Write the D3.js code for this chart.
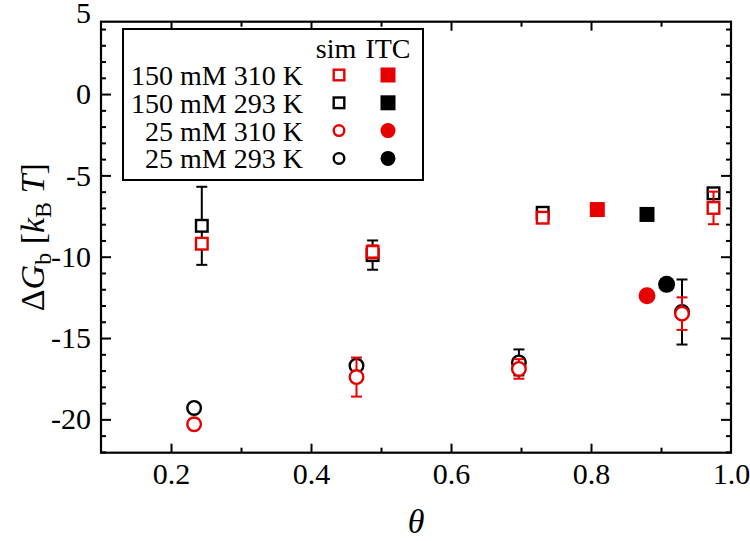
<!DOCTYPE html>
<html><head><meta charset="utf-8">
<script src="https://cdn.jsdelivr.net/npm/d3@7"></script>
<style>body{margin:0;background:#fff}svg{display:block}text{font-family:"Liberation Serif","Times New Roman",serif}</style>
</head><body><svg id="c" width="750" height="541"></svg>
<script>
// ---- data ----
const seriesNames = ["150 mM 310 K", "150 mM 293 K", "25 mM 310 K", "25 mM 293 K"];
const seriesColors = ["#e60000", "#000000", "#e60000", "#000000"];
const seriesShapes = ["square", "square", "circle", "circle"];
// simulation
const simTheta150 = [0.244, 0.488, 0.731, 0.975];
const simTheta25 = [0.233, 0.465, 0.697, 0.930];
const sim150_310 = [-9.2, -9.7, -7.6, -7.0];
const sim150_310err = [0.3, 0.4, 0.2, 1.0];
const sim150_293 = [-8.1, -9.9, -7.3, -6.1];
const sim150_293err = [2.4, 0.9, 0.2, 0.3];
const sim25_310 = [-20.3, -17.4, -16.9, -13.5];
const sim25_310err = [0.2, 1.2, 0.6, 1.0];
const sim25_293 = [-19.3, -16.7, -16.5, -13.4];
const sim25_293err = [0.2, 0.3, 0.8, 2.0];
// ITC
const itcTheta = [0.809, 0.880, 0.880, 0.908];
const itcValues = [-7.1, -7.4, -12.4, -11.7];
// ticks
const xTickLabels = [0.2, 0.4, 0.6, 0.8, 1.0];
const yTickLabels = [-20, -15, -10, -5, 0, 5];

// ---- layout ----
const L = 101, R = 731, T = 21.7, B = 452.7;
const svg = d3.select("#c");
const x = d3.scaleLinear().domain([0.1, 1.0]).range([L, R]);
const y = d3.scaleLinear().domain([-22.05, 4.45]).range([B, T]);

const sim = [
  {xs: simTheta150, ys: sim150_293, es: sim150_293err, s: 1},
  {xs: simTheta25, ys: sim25_293, es: sim25_293err, s: 3},
  {xs: simTheta150, ys: sim150_310, es: sim150_310err, s: 0},
  {xs: simTheta25, ys: sim25_310, es: sim25_310err, s: 2}
];

// frame
svg.append("rect").attr("x", L).attr("y", T).attr("width", R - L).attr("height", B - T)
  .attr("fill", "none").attr("stroke", "#000").attr("stroke-width", 2.2);

// axes
function styleAxis(g) {
  g.select(".domain").remove();
  g.selectAll("line").attr("stroke", "#000").attr("stroke-width", 2);
  g.selectAll("text").attr("font-size", 30).attr("fill", "#000")
    .attr("font-family", "'Liberation Serif','Times New Roman',serif");
}
const yMinor = d3.range(-22, 5, 1).filter(v => v >= -22.05 && v <= 4.45 && v % 5 !== 0);
const yMajorIn = yTickLabels.filter(v => v <= 4.45);
const xMinor = [0.1, 0.3, 0.5, 0.7, 0.9];
const hyph = v => String(v).replace("\u2212", "-");

// left labels (no tick lines)
svg.append("g").attr("transform", `translate(${L},0)`)
  .call(d3.axisLeft(y).tickValues(yTickLabels).tickSize(0).tickPadding(10).tickFormat(v => hyph(d3.format("d")(v))))
  .call(styleAxis);
// left / right major + minor ticks (inward)
[[L, 1], [R, -1]].forEach(([px, dir]) => {
  svg.append("g").attr("transform", `translate(${px},0)`)
    .call((dir > 0 ? d3.axisRight(y) : d3.axisLeft(y)).tickValues(yMajorIn).tickSize(10).tickFormat(""))
    .call(styleAxis);
  svg.append("g").attr("transform", `translate(${px},0)`)
    .call((dir > 0 ? d3.axisRight(y) : d3.axisLeft(y)).tickValues(yMinor).tickSize(5).tickFormat(""))
    .call(styleAxis);
});
// bottom labels
svg.append("g").attr("transform", `translate(0,${B})`)
  .call(d3.axisBottom(x).tickValues(xTickLabels).tickSize(0).tickPadding(10).tickFormat(d3.format(".1f")))
  .call(styleAxis);
[[B, 1], [T, -1]].forEach(([py, dir]) => {
  svg.append("g").attr("transform", `translate(0,${py})`)
    .call((dir > 0 ? d3.axisTop(x) : d3.axisBottom(x)).tickValues(xTickLabels.filter(v => v < 1)).tickSize(9).tickFormat(""))
    .call(styleAxis);
  svg.append("g").attr("transform", `translate(0,${py})`)
    .call((dir > 0 ? d3.axisTop(x) : d3.axisBottom(x)).tickValues(xMinor.filter(v => v > 0.1)).tickSize(5).tickFormat(""))
    .call(styleAxis);
});

// axis titles
const yt = svg.append("text").attr("transform", `translate(44,${(T + B) / 2}) rotate(-90)`)
  .attr("text-anchor", "middle").attr("font-size", 34);
yt.append("tspan").text("Δ");
yt.append("tspan").attr("font-style", "italic").text("G");
yt.append("tspan").attr("font-size", 24).attr("dy", 7).text("b");
yt.append("tspan").attr("dy", -7).text(" [");
yt.append("tspan").attr("font-style", "italic").text("k");
yt.append("tspan").attr("font-size", 24).attr("dy", 7).text("B");
yt.append("tspan").attr("dy", -7).attr("font-style", "italic").text(" T");
yt.append("tspan").text("]");
svg.append("text").attr("x", (L + R) / 2).attr("y", 533).attr("text-anchor", "middle")
  .attr("font-size", 34).attr("font-style", "italic").text("θ");

// marker drawing
function marker(g, shape, color, filled, cx, cy, size) {
  const sw = 2.4;
  if (shape === "square") {
    const s = filled ? size : size - sw;
    g.append("rect").attr("x", cx - s / 2).attr("y", cy - s / 2).attr("width", s).attr("height", s)
      .attr("fill", filled ? color : "#fff").attr("stroke", filled ? "none" : color).attr("stroke-width", sw);
  } else {
    const r = filled ? size / 2 : (size - sw) / 2;
    g.append("circle").attr("cx", cx).attr("cy", cy).attr("r", r)
      .attr("fill", filled ? color : "#fff").attr("stroke", filled ? "none" : color).attr("stroke-width", sw);
  }
}

const plot = svg.append("g");
sim.forEach(sr => {
  const color = seriesColors[sr.s];
  sr.xs.forEach((xv, i) => {
    const cx = x(xv), yv = sr.ys[i], e = sr.es[i];
    const eg = plot.append("g").attr("stroke", color).attr("stroke-width", 2).attr("fill", "none");
    eg.append("line").attr("x1", cx).attr("x2", cx).attr("y1", y(yv + e)).attr("y2", y(yv - e));
    [yv + e, yv - e].forEach(v => eg.append("line").attr("x1", cx - 5.5).attr("x2", cx + 5.5).attr("y1", y(v)).attr("y2", y(v)));
  });
  sr.xs.forEach((xv, i) => {
    marker(plot, seriesShapes[sr.s], color, false, x(xv), y(sr.ys[i]), seriesShapes[sr.s] === "square" ? 14 : 16);
  });
});
itcTheta.forEach((xv, i) => {
  marker(plot, seriesShapes[i], seriesColors[i], true, x(xv), y(itcValues[i]), seriesShapes[i] === "square" ? 15 : 17);
});

// legend
const lg = svg.append("g");
lg.append("rect").attr("x", 123).attr("y", 29).attr("width", 300).attr("height", 151)
  .attr("fill", "#fff").attr("stroke", "#000").attr("stroke-width", 2);
lg.append("text").attr("x", 336).attr("y", 58).attr("text-anchor", "middle").attr("font-size", 28).text("sim");
lg.append("text").attr("x", 388).attr("y", 58).attr("text-anchor", "middle").attr("font-size", 28).text("ITC");
seriesNames.forEach((n, i) => {
  const cy = 75 + i * 27.8;
  lg.append("text").attr("x", 303).attr("y", cy + 10).attr("text-anchor", "end").attr("font-size", 28).text(n);
  marker(lg, seriesShapes[i], seriesColors[i], false, 339, cy, 13);
  marker(lg, seriesShapes[i], seriesColors[i], true, 388, cy, 15);
});
</script></body></html>
